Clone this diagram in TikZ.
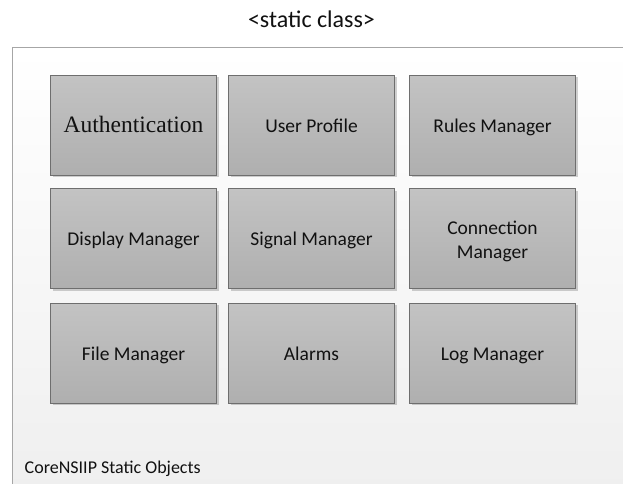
\documentclass[tikz,border=0pt]{standalone}
\usepackage{fontspec}
\setmainfont{Carlito}
\newfontfamily\serifface{Liberation Serif}
\usetikzlibrary{shadows}

\definecolor{frameline}{HTML}{A6A6A6}
\definecolor{frametop}{HTML}{FFFFFF}
\definecolor{framebottom}{HTML}{EEEEEE}
\definecolor{boxtop}{HTML}{C3C3C3}
\definecolor{boxbottom}{HTML}{AFAFAF}
\definecolor{boxline}{HTML}{6E6E6E}
\definecolor{ink}{HTML}{111111}

\tikzset{
  module/.style={
    draw=boxline, line width=0.9pt,
    top color=boxtop, bottom color=boxbottom,
    minimum width=166pt, minimum height=100pt,
    align=center, text=ink,
    font=\fontsize{19.5}{24}\selectfont,
    text height=16pt, text depth=2pt,
    drop shadow={shadow xshift=2pt, shadow yshift=-2pt, opacity=0.18, fill=black}
  },
  container/.style={
    draw=frameline, line width=1pt,
    top color=frametop, bottom color=framebottom
  }
}

\begin{document}
\begin{tikzpicture}[x=1pt, y=-1pt]
  \clip (0,0) rectangle (623,483);
  \fill[white] (0,0) rectangle (623,483);

  % heading above the container
  \node[text=ink, font=\fontsize{24}{28}\selectfont] (title) at (311.5,19) {<static class>};

  % container holding the static objects
  \path[container] (12.5,47.5) rectangle (660,520);
  \coordinate (frame) at (12.5,47.5);

  % grid of modules
  \node[module] (auth)    at (133.5,125)   {\serifface\fontsize{23.5}{28}\selectfont Authentication};
  \node[module] (profile) at (311.5,125)   {User Profile};
  \node[module] (rules)   at (492.5,125)   {Rules Manager};

  \node[module] (display) at (133.5,238.5) {Display Manager};
  \node[module] (signal)  at (311.5,238.5) {Signal Manager};
  \node[module, label={[align=center, text=ink, font=\fontsize{19.5}{24}\selectfont, yshift=-2.5pt]center:Connection\\Manager}] (conn) at (492.5,238.5) {};

  \node[module] (file)    at (133.5,353)   {File Manager};
  \node[module] (alarms)  at (311.5,353)   {Alarms};
  \node[module] (log)     at (492.5,353)   {Log Manager};

  % caption at the bottom left of the container
  \node[anchor=base west, inner sep=0pt, text=ink, font=\fontsize{18}{21}\selectfont] (caption) at (24.5,473) {CoreNSIIP Static Objects};
\end{tikzpicture}
\end{document}
